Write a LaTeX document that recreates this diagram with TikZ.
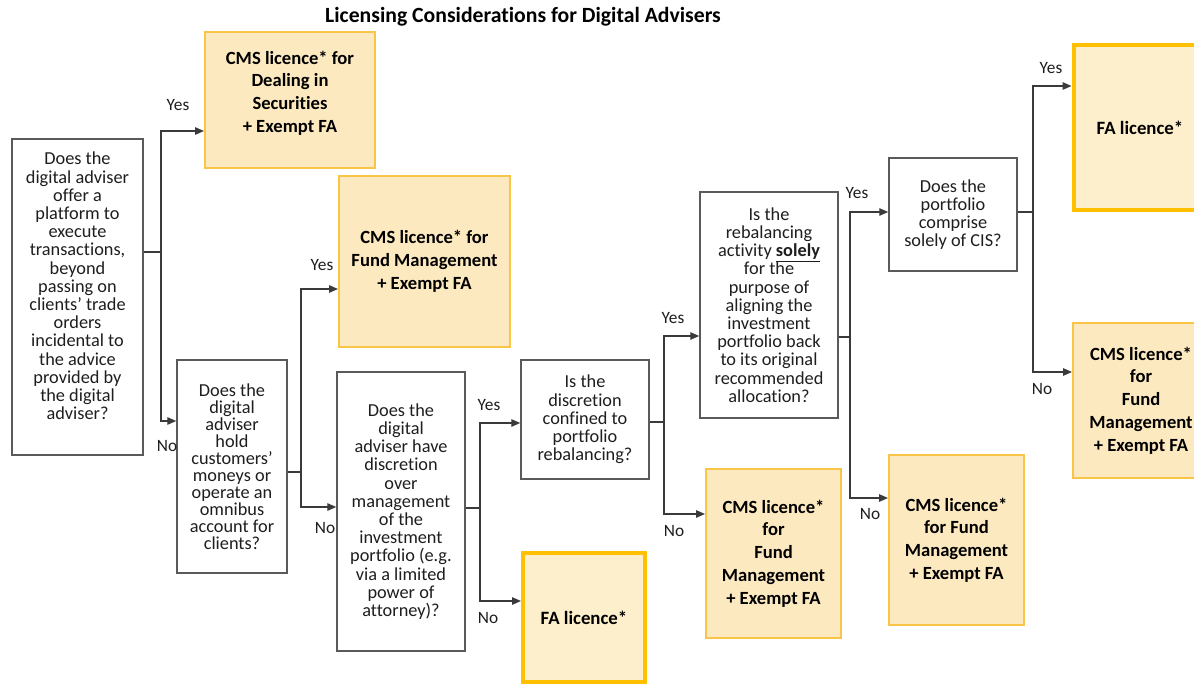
\documentclass[tikz,border=0pt]{standalone}
\usepackage{fontspec}
\setmainfont{Carlito}[Ligatures=NoCommon]
\usetikzlibrary{arrows.meta}

\definecolor{qline}{HTML}{5A5A5A}
\definecolor{wirecol}{HTML}{3A3A3A}
\definecolor{cmsfill}{HTML}{FCE9BF}
\definecolor{cmsline}{HTML}{F8C548}
\definecolor{fafill}{HTML}{FEEFCC}
\definecolor{faline}{HTML}{FFC000}
\definecolor{ink}{HTML}{1E1E1E}

\tikzset{
  qbox/.style={draw=qline, line width=1.5pt, fill=white, inner sep=0pt,
    align=center, text=ink, font=\fontsize{18.3}{18.2}\selectfont},
  cmsbox/.style={draw=cmsline, line width=2pt, fill=cmsfill, inner sep=0pt,
    align=center, text=black, font=\bfseries\fontsize{18.6}{22.7}\selectfont},
  fabox/.style={draw=faline, line width=4pt, fill=fafill, inner sep=0pt,
    align=center, text=black, font=\bfseries\fontsize{18.8}{22}\selectfont},
  wire/.style={draw=wirecol, line width=1.3pt},
  arrowwire/.style={wire, -{Triangle[length=9pt,width=7.5pt]}},
  answer/.style={font=\fontsize{17.3}{20}\selectfont, text=ink, inner sep=0pt},
  boxsize/.style 2 args={minimum width=#1pt, minimum height=#2pt},
}

\begin{document}
\begin{tikzpicture}[x=1pt, y=-1pt]
\useasboundingbox (0,0) rectangle (1194,685);
\clip (0,0) rectangle (1194,685);
\fill[white] (0,0) rectangle (1194,685);

% title
\node (title) at (523,17) {\bfseries\fontsize{21.7}{24}\selectfont Licensing Considerations for Digital Advisers};

% question boxes
\node[qbox, boxsize={131}{316}] (q1) at (77.5,297)
  {Does the\\digital adviser\\offer a\\platform to\\execute\\transactions,\\beyond\\passing on\\clients’ trade\\orders\\incidental to\\the advice\\provided by\\the digital\\adviser?\\[3.8pt]\mbox{}};
\node[qbox, boxsize={110}{213}, font=\fontsize{18.3}{17}\selectfont] (q2) at (232,466.5)
  {Does the\\digital\\adviser\\hold\\customers’\\moneys or\\operate an\\omnibus\\account for\\clients?};
\node[qbox, boxsize={128}{279}] (q3) at (401,511.5)
  {Does the\\digital\\adviser have\\discretion\\over\\management\\of the\\investment\\portfolio (e.g.\\via a limited\\power of\\attorney)?};
\node[qbox, boxsize={128}{119}] (q4) at (585,419.5)
  {Is the\\discretion\\confined to\\portfolio\\rebalancing?};
\node[qbox, boxsize={138}{226}] (q5) at (769,305)
  {Is the\\rebalancing\\activity \underline{\textbf{solely}}\\for the\\purpose of\\aligning the\\investment\\portfolio back\\to its original\\recommended\\allocation?};
\node[qbox, boxsize={128}{113}] (q6) at (953,214.5)
  {Does the\\portfolio\\comprise\\solely of CIS?};

% outcome boxes
\node[cmsbox, boxsize={170}{136}] (cmsdeal) at (290,100)
  {CMS licence* for\\Dealing in\\Securities\\+ Exempt FA\\[-5.7pt]\mbox{}};
\node[cmsbox, boxsize={171}{171}] (cmsfm1) at (424.5,261.5)
  {CMS licence* for\\Fund Management\\+ Exempt FA};
\node[fabox, boxsize={122}{129}] (fa1) at (584,617.5) {FA licence*};
\node[cmsbox, boxsize={135}{169}] (cmsfm2) at (773.5,553.5)
  {CMS licence*\\for\\Fund\\Management\\+ Exempt FA};
\node[cmsbox, boxsize={135}{170}] (cmsfm3) at (956.5,540)
  {CMS licence*\\for Fund\\Management\\+ Exempt FA};
\node[fabox, boxsize={133}{165}] (fa2) at (1140,127.5) {FA licence*};
\node[cmsbox, boxsize={136}{155}] (cmsfm4) at (1141,400.5)
  {CMS licence*\\for\\Fund\\Management\\+ Exempt FA};

% branch points
\coordinate (j1) at (161,252);
\coordinate (j2) at (301,472);
\coordinate (j3) at (480,508);
\coordinate (j4) at (664,422);
\coordinate (j5) at (850,337);
\coordinate (j6) at (1033,212);

% connectors
\draw[wire] (q1.east |- j1) -- (j1);
\draw[arrowwire] (j1) |- ([yshift=-31pt]cmsdeal.west);
\draw[arrowwire] (j1) |- ([yshift=45.5pt]q2.west);

\draw[wire] (q2.east |- j2) -- (j2);
\draw[arrowwire] (j2) |- ([yshift=-27.5pt]cmsfm1.west);
\draw[arrowwire] (j2) |- ([yshift=4.5pt]q3.west);

\draw[wire] (q3.east |- j3) -- (j3);
\draw[arrowwire] (j3) |- ([yshift=-3.5pt]q4.west);
\draw[arrowwire] (j3) |- ([yshift=16.5pt]fa1.west);

\draw[wire] (q4.east |- j4) -- (j4);
\draw[arrowwire] (j4) |- ([yshift=-31pt]q5.west);
\draw[arrowwire] (j4) |- ([yshift=39.5pt]cmsfm2.west);

\draw[wire] (q5.east |- j5) -- (j5);
\draw[arrowwire] (j5) |- ([yshift=2.5pt]q6.west);
\draw[arrowwire] (j5) |- ([yshift=42pt]cmsfm3.west);

\draw[wire] (q6.east |- j6) -- (j6);
\draw[arrowwire] (j6) |- ([yshift=41.5pt]fa2.west);
\draw[arrowwire] (j6) |- ([yshift=28.5pt]cmsfm4.west);

% answer labels
\node[answer] (yes1) at (178,105) {Yes};
\node[answer] (no1)  at (167,446) {No};
\node[answer] (yes2) at (322,265) {Yes};
\node[answer] (no2)  at (325,528) {No};
\node[answer] (yes3) at (489,405) {Yes};
\node[answer] (no3)  at (488,618) {No};
\node[answer] (yes4) at (673,318) {Yes};
\node[answer] (no4)  at (674,531) {No};
\node[answer] (yes5) at (857,193) {Yes};
\node[answer] (no5)  at (870,514) {No};
\node[answer] (yes6) at (1051,68) {Yes};
\node[answer] (no6)  at (1042,389) {No};
\end{tikzpicture}
\end{document}
